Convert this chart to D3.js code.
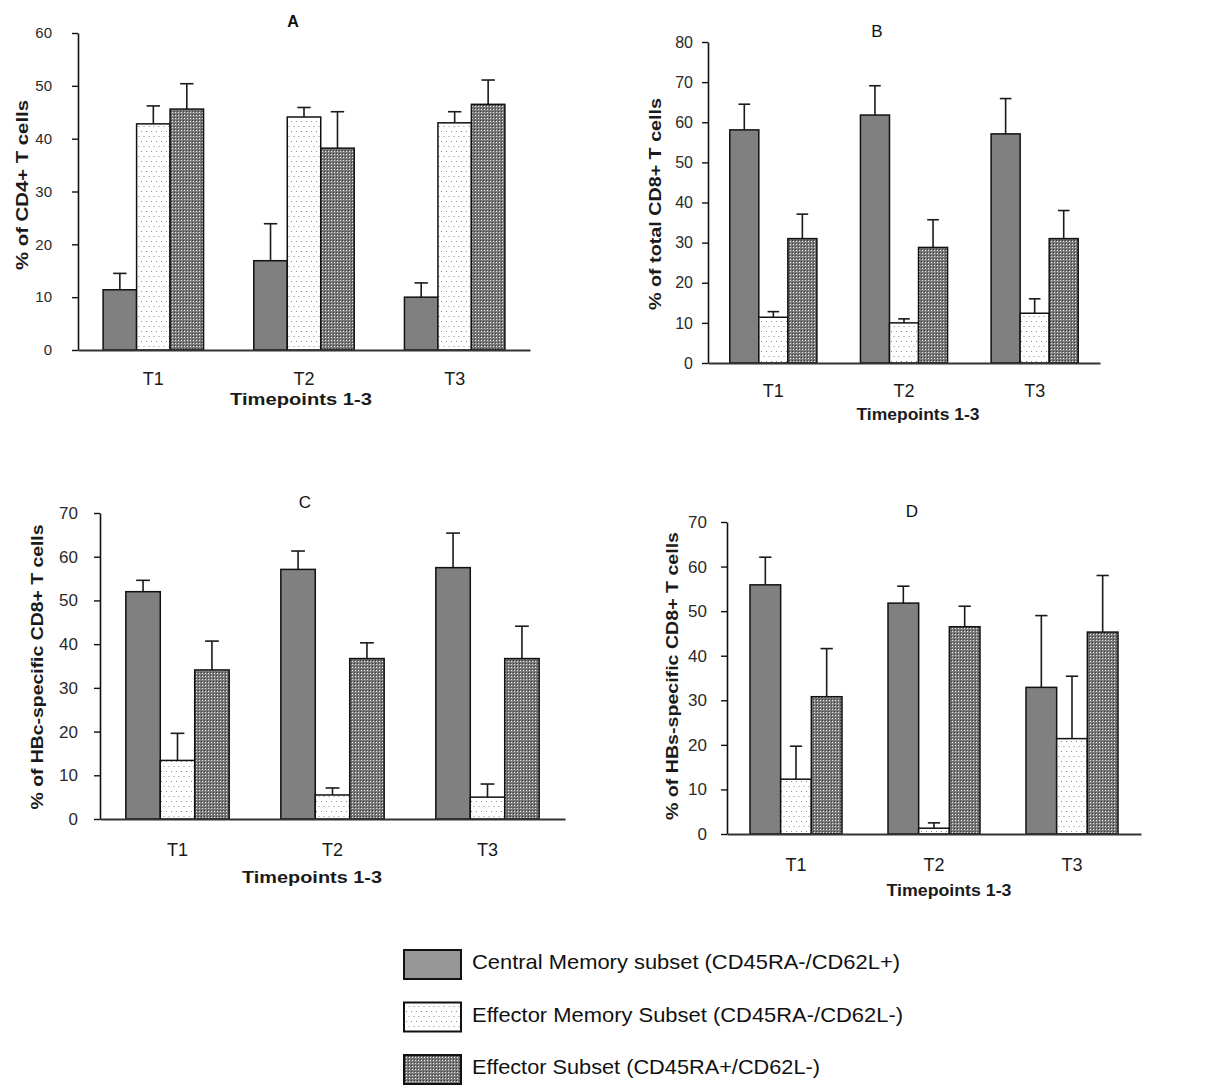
<!DOCTYPE html>
<html>
<head>
<meta charset="utf-8">
<script src="https://cdn.jsdelivr.net/npm/d3@7"></script>
<style>
  body { margin: 0; background: #fff; }
  svg { display: block; font-family: "Liberation Sans", Arial, sans-serif; }
</style>
</head>
<body>
<svg id="chart" width="1207" height="1088"></svg>
<script>
// values; rows = timepoints, columns = subsets
const timepoints = ["T1", "T2", "T3"];
const subsets = [
  "Central Memory subset (CD45RA-/CD62L+)",
  "Effector Memory Subset (CD45RA-/CD62L-)",
  "Effector Subset (CD45RA+/CD62L-)"
];

const cd4Mean = [[11.4, 42.8, 45.6], [16.9, 44.1, 38.2], [10.0, 43.0, 46.5]];
const cd4Upper = [[14.5, 46.2, 50.4], [23.9, 45.9, 45.1], [12.7, 45.1, 51.1]];
const cd8Mean = [[58.1, 11.4, 31.0], [61.8, 10.0, 28.8], [57.1, 12.4, 31.0]];
const cd8Upper = [[64.5, 12.8, 37.1], [69.1, 11.0, 35.7], [65.9, 16.0, 38.0]];
const hbcMean = [[52.0, 13.4, 34.1], [57.1, 5.5, 36.7], [57.5, 5.0, 36.7]];
const hbcUpper = [[54.6, 19.6, 40.7], [61.3, 7.1, 40.3], [65.4, 8.0, 44.1]];
const hbsMean = [[55.9, 12.3, 30.8], [51.8, 1.3, 46.5], [32.9, 21.4, 45.3]];
const hbsUpper = [[62.1, 19.7, 41.6], [55.6, 2.5, 51.1], [49.0, 35.4, 58.0]];

const panelTitles = ["A", "B", "C", "D"];
const yLabels = [
  "% of CD4+ T cells",
  "% of total CD8+ T cells",
  "% of HBc-specific CD8+ T cells",
  "% of HBs-specific CD8+ T cells"
];
const yMax = [60, 80, 70, 70];
const xTitle = "Timepoints 1-3";

const svg = d3.select("#chart");
const defs = svg.append("defs");

// light dotted fill (effector memory)
const dots = defs.append("pattern").attr("id", "dots")
  .attr("patternUnits", "userSpaceOnUse").attr("width", 5).attr("height", 10);
dots.append("rect").attr("width", 5).attr("height", 10).attr("fill", "#fff");
dots.append("rect").attr("x", 1).attr("y", 1).attr("width", 1).attr("height", 1).attr("fill", "#8a8a8a");
dots.append("rect").attr("x", 3.5).attr("y", 6).attr("width", 1).attr("height", 1).attr("fill", "#8a8a8a");

// dense dark texture (effector)
const dense = defs.append("pattern").attr("id", "dense")
  .attr("patternUnits", "userSpaceOnUse").attr("width", 3).attr("height", 3);
dense.append("rect").attr("width", 3).attr("height", 3).attr("fill", "#7a7a7a");
dense.append("rect").attr("x", 1).attr("y", 1).attr("width", 1).attr("height", 1).attr("fill", "#e8e8e8");
dense.append("rect").attr("x", 0).attr("y", 0).attr("width", 1).attr("height", 1).attr("fill", "#3a3a3a");

const fills = ["#808080", "url(#dots)", "url(#dense)"];

const panels = [
  { mean: cd4Mean, upper: cd4Upper, left: 78, right: 530, top: 33, bottom: 350,
    tickFont: 15, tickPad: 20, xFont: 18, xPad: 22,
    title: [293, 27, 16, "bold"], ylab: [22, 185, 170], xt: [301, 405, 142] },
  { mean: cd8Mean, upper: cd8Upper, left: 708, right: 1100, top: 42, bottom: 363,
    tickFont: 16, tickPad: 9, xFont: 18, xPad: 21,
    title: [877, 37, 17, "normal"], ylab: [655, 204, 212], xt: [918, 420, 123] },
  { mean: hbcMean, upper: hbcUpper, left: 100, right: 565, top: 513, bottom: 819,
    tickFont: 17, tickPad: 16, xFont: 18, xPad: 24,
    title: [305, 508, 17, "normal"], ylab: [37, 667, 285], xt: [312, 883, 140] },
  { mean: hbsMean, upper: hbsUpper, left: 727, right: 1141, top: 522, bottom: 834,
    tickFont: 17, tickPad: 14, xFont: 18, xPad: 24,
    title: [912, 517, 17, "normal"], ylab: [672, 676, 288], xt: [949, 896, 125] }
];

panels.forEach((p, k) => {
  const g = svg.append("g");
  const x = d3.scaleBand().domain(timepoints).range([p.left, p.right])
    .paddingInner(1 / 3).paddingOuter(1 / 6);
  const xs = d3.scaleBand().domain(d3.range(subsets.length)).range([0, x.bandwidth()]);
  const y = d3.scaleLinear().domain([0, yMax[k]]).range([p.bottom, p.top]);
  const bw = xs.bandwidth();

  const cells = [];
  timepoints.forEach((t, i) => {
    subsets.forEach((s, j) => {
      cells.push({ t, j, mean: p.mean[i][j], upper: p.upper[i][j] });
    });
  });

  // error bars (upper only), drawn under the bars so they start at the bar top
  const err = g.append("g").attr("stroke", "#1a1a1a").attr("stroke-width", 1.6);
  cells.forEach(c => {
    const cx = x(c.t) + xs(c.j) + bw / 2;
    err.append("line").attr("x1", cx).attr("x2", cx)
      .attr("y1", y(c.mean)).attr("y2", y(c.upper));
    err.append("line").attr("x1", cx - bw * 0.2).attr("x2", cx + bw * 0.2)
      .attr("y1", y(c.upper)).attr("y2", y(c.upper));
  });

  g.append("g").selectAll("rect").data(cells).join("rect")
    .attr("x", c => x(c.t) + xs(c.j))
    .attr("y", c => y(c.mean))
    .attr("width", bw)
    .attr("height", c => y(0) - y(c.mean))
    .attr("fill", c => fills[c.j])
    .attr("stroke", "#111")
    .attr("stroke-width", 1.5);

  // y axis
  const ya = g.append("g").attr("transform", `translate(${p.left},0)`)
    .call(d3.axisLeft(y).tickValues(d3.range(0, yMax[k] + 1, 10))
      .tickSize(6).tickSizeOuter(0).tickPadding(p.tickPad));
  ya.select(".domain").attr("stroke", "#111").attr("stroke-width", 1.6);
  ya.selectAll(".tick line").attr("stroke", "#111").attr("stroke-width", 1.4);
  ya.selectAll("text").attr("font-size", p.tickFont).attr("fill", "#2a2a2a")
    .attr("font-family", "'Liberation Sans', Arial, sans-serif");

  // x axis
  const xa = g.append("g").attr("transform", `translate(0,${p.bottom})`)
    .call(d3.axisBottom(x).tickSize(0).tickSizeOuter(0).tickPadding(p.xPad));
  xa.select(".domain").attr("stroke", "#333").attr("stroke-width", 2);
  xa.selectAll("text").attr("font-size", p.xFont).attr("fill", "#1a1a1a")
    .attr("font-family", "'Liberation Sans', Arial, sans-serif");

  // panel title
  g.append("text").attr("x", p.title[0]).attr("y", p.title[1])
    .attr("text-anchor", "middle").attr("font-size", p.title[2])
    .attr("font-weight", p.title[3]).attr("fill", "#111")
    .text(panelTitles[k]);

  // y label
  g.append("text")
    .attr("transform", `translate(${p.ylab[0]},${p.ylab[1]}) rotate(-90)`)
    .attr("text-anchor", "middle").attr("dominant-baseline", "central")
    .attr("font-size", 16).attr("font-weight", "bold").attr("fill", "#1a1a1a")
    .attr("textLength", p.ylab[2]).attr("lengthAdjust", "spacingAndGlyphs")
    .text(yLabels[k]);

  // x title
  g.append("text").attr("x", p.xt[0]).attr("y", p.xt[1])
    .attr("text-anchor", "middle")
    .attr("font-size", 17).attr("font-weight", "bold").attr("fill", "#1a1a1a")
    .attr("textLength", p.xt[2]).attr("lengthAdjust", "spacingAndGlyphs")
    .text(xTitle);
});

// legend
const legendFills = ["#969696", "url(#dots)", "url(#dense)"];
const legendWidths = [428, 431, 348];
const legend = svg.append("g");
subsets.forEach((s, j) => {
  const top = 950 + j * 52.5;
  legend.append("rect").attr("x", 404).attr("y", top).attr("width", 57).attr("height", 29)
    .attr("fill", legendFills[j]).attr("stroke", "#111").attr("stroke-width", 2);
  legend.append("text").attr("x", 472).attr("y", top + 19)
    .attr("font-size", 21).attr("fill", "#111")
    .attr("textLength", legendWidths[j]).attr("lengthAdjust", "spacingAndGlyphs")
    .text(s);
});
</script>
</body>
</html>
